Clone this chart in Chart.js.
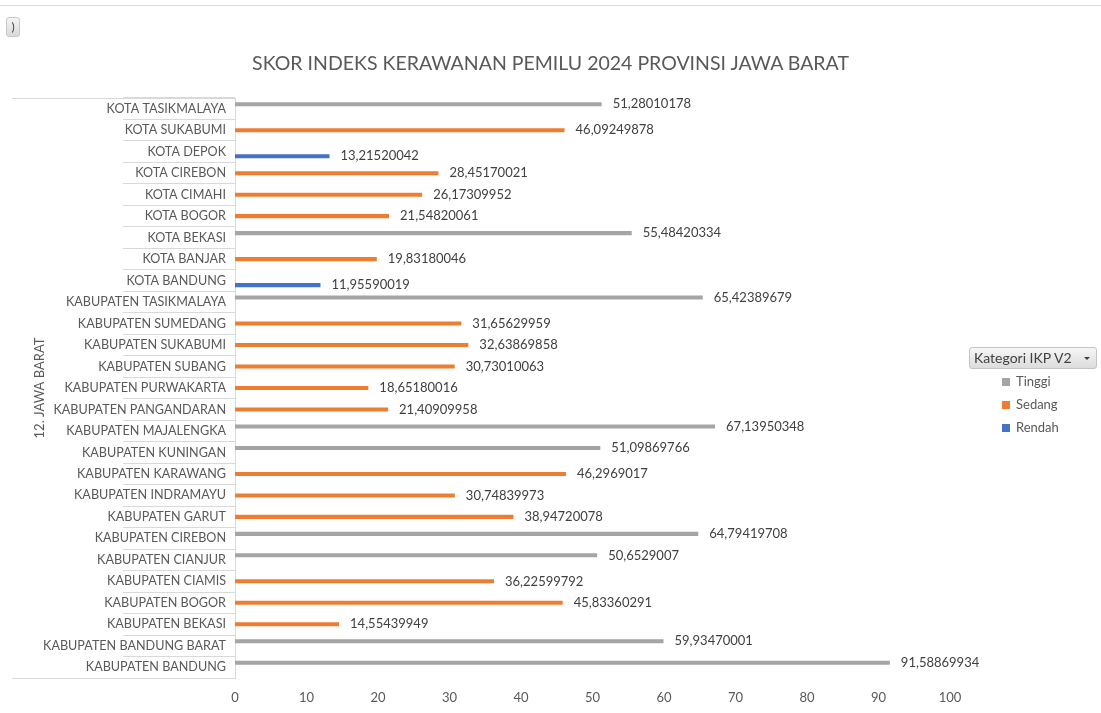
<!DOCTYPE html>
<html>
<head>
<meta charset="utf-8">
<script src="https://cdn.jsdelivr.net/npm/chart.js@4.4.0/dist/chart.umd.min.js"></script>
<style>
  body { margin: 0; background: #fff; font-family: Lato, sans-serif; }
  #wrap { position: relative; width: 1101px; height: 713px; overflow: hidden; }
  #topline { position: absolute; left: 0; top: 5px; width: 1101px; height: 1px; background: #d9d9d9; }
  #btn { position: absolute; left: 6px; top: 17px; width: 12px; height: 18px; border: 1px solid #c8c8c8; border-radius: 3px;
         background: linear-gradient(#f4f4f4, #dadada); font-size: 12px; color: #404040; line-height: 18px; text-align: center; }
  #title { position: absolute; left: 0; top: 51px; width: 1101px; text-align: center; font-size: 19.5px; line-height: 24px; color: #595959; }
  #filter { position: absolute; left: 969px; top: 347px; width: 122px; height: 20px; border: 1px solid #c4c4c4; border-radius: 3px;
            background: linear-gradient(#f6f6f6, #dcdcdc); font-size: 14px; color: #404040; line-height: 20px; padding-left: 4px; box-sizing: content-box; }
  #filter span.arr { position: absolute; right: 6px; top: 9px; width: 0; height: 0; border-left: 3px solid transparent; border-right: 3px solid transparent; border-top: 3px solid #404040; }
  .leg { position: absolute; left: 1002px; font-size: 13px; color: #595959; line-height: 16px; }
  .leg i { display: inline-block; width: 8px; height: 8px; margin-right: 6px; vertical-align: 0px; }
</style>
</head>
<body>
<div id="wrap">
  <canvas id="chart" width="1101" height="713"></canvas>
  <div id="topline"></div>
  <div id="btn">)</div>
  <div id="title">SKOR INDEKS KERAWANAN PEMILU 2024 PROVINSI JAWA BARAT</div>
  <div id="filter">Kategori IKP V2<span class="arr"></span></div>
  <div id="legend"></div>
</div>
<script>
var categories = [
  "KOTA TASIKMALAYA", "KOTA SUKABUMI", "KOTA DEPOK", "KOTA CIREBON", "KOTA CIMAHI",
  "KOTA BOGOR", "KOTA BEKASI", "KOTA BANJAR", "KOTA BANDUNG", "KABUPATEN TASIKMALAYA",
  "KABUPATEN SUMEDANG", "KABUPATEN SUKABUMI", "KABUPATEN SUBANG", "KABUPATEN PURWAKARTA",
  "KABUPATEN PANGANDARAN", "KABUPATEN MAJALENGKA", "KABUPATEN KUNINGAN", "KABUPATEN KARAWANG",
  "KABUPATEN INDRAMAYU", "KABUPATEN GARUT", "KABUPATEN CIREBON", "KABUPATEN CIANJUR",
  "KABUPATEN CIAMIS", "KABUPATEN BOGOR", "KABUPATEN BEKASI", "KABUPATEN BANDUNG BARAT",
  "KABUPATEN BANDUNG"
];
var scores = [
  51.28010178, 46.09249878, 13.21520042, 28.45170021, 26.17309952,
  21.54820061, 55.48420334, 19.83180046, 11.95590019, 65.42389679,
  31.65629959, 32.63869858, 30.73010063, 18.65180016,
  21.40909958, 67.13950348, 51.09869766, 46.2969017,
  30.74839973, 38.94720078, 64.79419708, 50.6529007,
  36.22599792, 45.83360291, 14.55439949, 59.93470001,
  91.58869934
];
var kategori = [
  "Tinggi", "Sedang", "Rendah", "Sedang", "Sedang",
  "Sedang", "Tinggi", "Sedang", "Rendah", "Tinggi",
  "Sedang", "Sedang", "Sedang", "Sedang",
  "Sedang", "Tinggi", "Tinggi", "Sedang",
  "Sedang", "Sedang", "Tinggi", "Tinggi",
  "Sedang", "Sedang", "Sedang", "Tinggi",
  "Tinggi"
];
var seriesNames = ["Tinggi", "Sedang", "Rendah"];
var seriesColors = ["#a5a5a5", "#ed7d31", "#4472c4"];
var xTicks = [0, 10, 20, 30, 40, 50, 60, 70, 80, 90, 100];

var datasets = [];
for (var s = 0; s < seriesNames.length; s++) {
  var arr = [];
  for (var i = 0; i < categories.length; i++) {
    arr.push(kategori[i] == seriesNames[s] ? scores[i] : null);
  }
  datasets.push({
    label: seriesNames[s],
    data: arr,
    backgroundColor: seriesColors[s],
    borderWidth: 0,
    categoryPercentage: 0.63,
    barPercentage: 0.9
  });
}

// legend (html)
var legendBox = document.getElementById("legend");
for (var s = 0; s < seriesNames.length; s++) {
  var d = document.createElement("div");
  d.className = "leg";
  d.style.top = (373 + s * 23) + "px";
  d.innerHTML = '<i style="background:' + seriesColors[s] + '"></i>' + seriesNames[s];
  legendBox.appendChild(d);
}

var valueLabels = {
  id: "valueLabels",
  afterDatasetsDraw: function(chart) {
    var ctx = chart.ctx;
    ctx.save();
    ctx.font = "13px Lato";
    ctx.fillStyle = "#404040";
    ctx.textBaseline = "middle";
    ctx.textAlign = "left";
    chart.data.datasets.forEach(function(ds, di) {
      var meta = chart.getDatasetMeta(di);
      meta.data.forEach(function(bar, i) {
        if (ds.data[i] == null) return;
        ctx.fillText(String(ds.data[i]).replace(".", ","), bar.x + 11, bar.y);
      });
    });
    ctx.restore();
  }
};

var outerLines = {
  id: "outerLines",
  afterDraw: function(chart) {
    var ctx = chart.ctx;
    var y = chart.scales.y;
    ctx.save();
    ctx.strokeStyle = "#d9d9d9";
    ctx.lineWidth = 1;
    ctx.beginPath();
    ctx.moveTo(12, Math.round(y.top) + 0.5);
    ctx.lineTo(y.right, Math.round(y.top) + 0.5);
    ctx.moveTo(12, Math.round(y.bottom) + 0.5);
    ctx.lineTo(y.right, Math.round(y.bottom) + 0.5);
    ctx.stroke();
    ctx.restore();
  }
};

new Chart(document.getElementById("chart"), {
  type: "bar",
  data: { labels: categories, datasets: datasets },
  plugins: [valueLabels, outerLines],
  options: {
    indexAxis: "y",
    responsive: false,
    animation: false,
    layout: { padding: { left: 0, right: 151, top: 98, bottom: 0 } },
    plugins: {
      legend: { display: false },
      tooltip: { enabled: false },
      title: { display: false }
    },
    scales: {
      x: {
        min: 0,
        max: 100,
        afterFit: function(scale) { scale.height = 35; },
        afterBuildTicks: function(scale) {
          scale.ticks = xTicks.map(function(v) { return { value: v }; });
        },
        grid: { display: false },
        border: { display: false },
        ticks: { color: "#595959", font: { family: "Lato", size: 13 }, padding: 4 }
      },
      y: {
        afterFit: function(scale) { scale.width = 235; },
        grid: {
          offset: true,
          drawOnChartArea: false,
          tickLength: 112,
          color: "#d9d9d9"
        },
        border: { display: true, color: "#d9d9d9" },
        ticks: {
          autoSkip: false,
          color: "#595959",
          font: { family: "Lato", size: 12.6 },
          padding: -103
        },
        title: {
          display: true,
          text: "12. JAWA BARAT",
          color: "#595959",
          font: { family: "Lato", size: 13 },
          padding: { top: 32 }
        }
      }
    }
  }
});
</script>
</body>
</html>
